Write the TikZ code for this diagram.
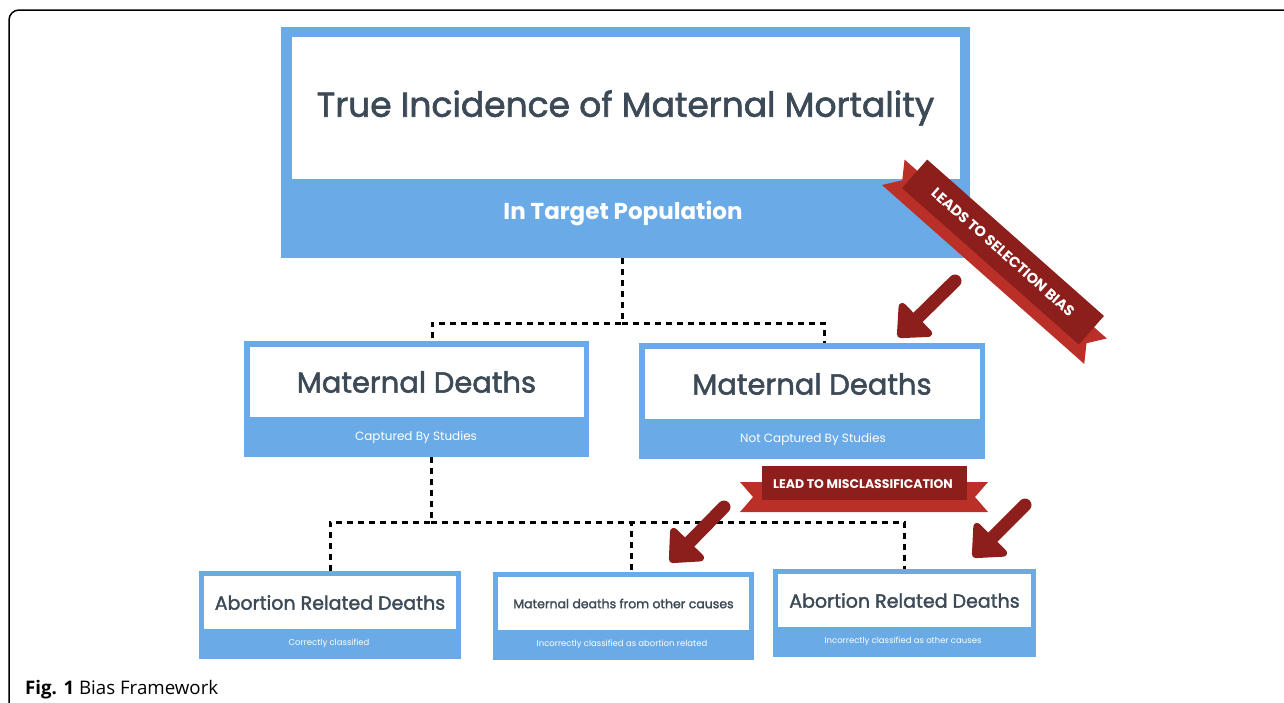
\documentclass[tikz,border=0pt]{standalone}
\usepackage{fontspec}
\setmainfont{Poppins}
\newfontfamily\headfont{Poppins}[FakeBold=1.8]
\newfontfamily\capfont{Open Sans}
\usetikzlibrary{shapes.geometric, arrows.meta}
\usetikzlibrary{positioning}
\definecolor{boxblue}{HTML}{6AAAE6}
\definecolor{slate}{HTML}{3C4A57}
\definecolor{ribbondark}{HTML}{8C1F1B}
\definecolor{ribbonlight}{HTML}{BA2F28}
\tikzstyle{panel} = [rectangle, fill=boxblue, inner sep=0pt]
\tikzstyle{face} = [rectangle, fill=white, inner sep=0pt, text=slate, text centered]
\tikzstyle{tag} = [text=white, inner sep=0pt]
\tikzstyle{link} = [line width=3pt, dash pattern=on 6pt off 5pt]
\tikzstyle{pointer} = [line width=13pt, line cap=round, draw=ribbondark,
-{Triangle[length=30pt, width=52pt, round]}]
\tikzstyle{ribbontext} = [text=white, inner sep=0pt, font=\bfseries]

\begin{document}
\begin{tikzpicture}[x=1pt, y=-1pt]
    \useasboundingbox (0,0) rectangle (1284,702);
    \draw[line width=1.5pt, rounded corners=10pt] (9,720) |- (1300,10);

    % top level
    \node (top) [panel, minimum width=689pt, minimum height=231pt] at (625.5,142.5) {};
    \node (topface) [face, minimum width=668pt, minimum height=142pt, below=10pt of top.north,
    font=\headfont\fontsize{34.5}{40}\selectfont] {True Incidence of Maternal Mortality};
    \node (toptag) [tag, font=\fontsize{23}{27}\selectfont\bfseries] at (623,213) {In Target Population};

    % studies
    \node (mleft) [panel, minimum width=345pt, minimum height=116pt] at (416.5,399) {};
    \node (mleftface) [face, minimum width=334pt, minimum height=70pt, below=6pt of mleft.north,
    font=\headfont\fontsize{29}{34}\selectfont] {Maternal Deaths};
    \node (mlefttag) [tag, font=\fontsize{12}{14}\selectfont] at (416,437) {Captured By Studies};

    \node (mright) [panel, minimum width=346pt, minimum height=116pt] at (812,401) {};
    \node (mrightface) [face, minimum width=335pt, minimum height=70pt, below=6pt of mright.north,
    font=\headfont\fontsize{29}{34}\selectfont] {Maternal Deaths};
    \node (mrighttag) [tag, font=\fontsize{12}{14}\selectfont] at (813,439) {Not Captured By Studies};

    % classification
    \node (bleft) [panel, minimum width=262pt, minimum height=88pt] at (330,615) {};
    \node (bleftface) [face, minimum width=252pt, minimum height=53pt, below=5pt of bleft.north,
    font=\headfont\fontsize{19}{23}\selectfont] {Abortion Related Deaths};
    \node (blefttag) [tag, font=\fontsize{8.5}{10}\selectfont] at (329,643) {Correctly classified};

    \node (bmid) [panel, minimum width=261pt, minimum height=88pt] at (623.5,616) {};
    \node (bmidface) [face, minimum width=251pt, minimum height=53pt, below=5pt of bmid.north,
    font=\headfont\fontsize{12.5}{15}\selectfont] {Maternal deaths from other causes};
    \node (bmidtag) [tag, font=\fontsize{8.5}{10}\selectfont] at (622,644) {Incorrectly classified as abortion related};

    \node (bright) [panel, minimum width=263pt, minimum height=88pt] at (904.5,613) {};
    \node (brightface) [face, minimum width=253pt, minimum height=53pt, below=5pt of bright.north,
    font=\headfont\fontsize{19}{23}\selectfont] {Abortion Related Deaths};
    \node (brighttag) [tag, font=\fontsize{8.5}{10}\selectfont] at (903,641) {Incorrectly classified as other causes};

    % dotted connectors
    \draw[link] ([xshift=-3.5pt]top.south) -- ++(0,65) -| ([xshift=15.5pt]mleft.north);
    \draw[link] ([xshift=-3.5pt]top.south) ++(0,65) -| ([xshift=12pt]mright.north);
    \draw[link] ([xshift=14.5pt]mleft.south) -- ++(0,65) -| (bleft.north);
    \draw[link] ([xshift=14.5pt]mleft.south) ++(0,65) -| ([xshift=7.5pt]bmid.north);
    \draw[link] ([xshift=14.5pt]mleft.south) ++(0,65) -| (bright.north);

    % selection ribbon
    \begin{scope}[shift={(1003,252)}, rotate=-41.5]
        \fill[ribbonlight] (-135,-4) -- (-123,13) -- (-135,30) -- (135,30) -- (123,13) -- (135,-4) -- cycle;
        \fill[ribbondark] (-118,-19) rectangle (118,19);
    \end{scope}
    \node (selection) [ribbontext, rotate=-41.5, font=\fontsize{14.5}{17}\selectfont\bfseries]
    at (1003,252) {LEADS TO SELECTION BIAS};

    % misclassification ribbon
    \fill[ribbonlight] (740,482) -- (753,497) -- (740,512) -- (988,512) -- (975,497) -- (988,482) -- cycle;
    \fill[ribbondark] (762,466) rectangle (967,500);
    \node (misclass) [ribbontext, font=\fontsize{12.5}{15}\selectfont\bfseries]
    at (863,484) {LEAD TO MISCLASSIFICATION};

    % arrows
    \coordinate (p1s) at (955,281);
    \coordinate (p1e) at (898,337);
    \coordinate (p2s) at (724,507);
    \coordinate (p2e) at (670,562);
    \coordinate (p3s) at (1025,505);
    \coordinate (p3e) at (973,557);
    \draw[pointer] (p1s) -- (p1e);
    \draw[pointer] (p2s) -- (p2e);
    \draw[pointer] (p3s) -- (p3e);

    \node (caption) [anchor=base west, inner sep=0pt, font=\capfont\fontsize{18.7}{22}\selectfont]
    at (25,694) {\textbf{Fig. 1} Bias Framework};
\end{tikzpicture}
\end{document}
